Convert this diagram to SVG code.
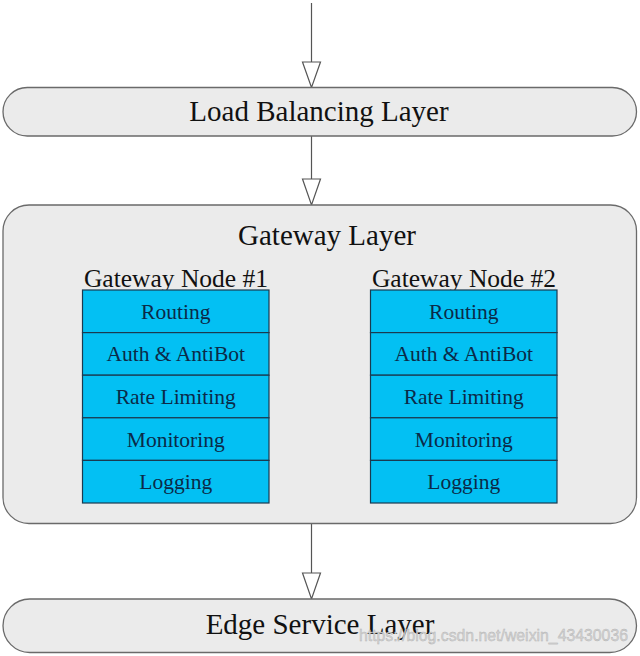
<svg xmlns="http://www.w3.org/2000/svg" width="640" height="656" viewBox="0 0 640 656">
<style>
.layer{fill:#ebebeb;stroke:#6a6a6a;stroke-width:1.3}
.big{font-family:"Liberation Serif","Times New Roman",serif;font-size:29px;fill:#111;text-anchor:middle}
.title{font-family:"Liberation Serif","Times New Roman",serif;font-size:25.5px;fill:#111;text-anchor:middle}
.cell{fill:#03c0f3;stroke:#1a3a50;stroke-width:1.2}
.ct{font-family:"Liberation Serif","Times New Roman",serif;font-size:21.5px;fill:#0b2a48;text-anchor:middle}
.conn{stroke:#555;stroke-width:1.2;fill:none}
.head{fill:#fff;stroke:#555;stroke-width:1.2}
.wm{font-family:"Liberation Sans",Arial,sans-serif;font-size:17px;fill:#d4d4d4;stroke:#b0b0b0;stroke-width:0.4}
</style>
<rect width="640" height="656" fill="#fff"/>
<g id="connectors">
<line class="conn" x1="311.5" y1="3" x2="311.5" y2="62"/>
<polygon class="head" points="302.5,62 320.5,62 311.5,87.5"/>
<line class="conn" x1="311.5" y1="136" x2="311.5" y2="179"/>
<polygon class="head" points="302.5,179 320.5,179 311.5,205"/>
<line class="conn" x1="311.5" y1="524" x2="311.5" y2="573"/>
<polygon class="head" points="302.5,573 320.5,573 311.5,599"/>
</g>
<g id="load-balancing">
<rect class="layer" x="3" y="87.5" width="633.5" height="48.5" rx="24.25"/>
<text class="big" x="319" y="121">Load Balancing Layer</text>
</g>
<g id="gateway-layer">
<rect class="layer" x="3" y="205" width="633.5" height="318.5" rx="26"/>
<text class="big" x="327" y="245">Gateway Layer</text>
</g>
<g id="gateway-node-1">
<text class="title" x="176" y="287">Gateway Node #1</text>
<rect class="cell" x="82.5" y="290" width="186.5" height="42.6"/>
<rect class="cell" x="82.5" y="332.6" width="186.5" height="42.6"/>
<rect class="cell" x="82.5" y="375.2" width="186.5" height="42.6"/>
<rect class="cell" x="82.5" y="417.8" width="186.5" height="42.6"/>
<rect class="cell" x="82.5" y="460.4" width="186.5" height="42.6"/>
<text class="ct" x="175.75" y="318.5">Routing</text>
<text class="ct" x="175.75" y="361">Auth &amp; AntiBot</text>
<text class="ct" x="175.75" y="403.5">Rate Limiting</text>
<text class="ct" x="175.75" y="446.5">Monitoring</text>
<text class="ct" x="175.75" y="488.5">Logging</text>
</g>
<g id="gateway-node-2">
<text class="title" x="464" y="287">Gateway Node #2</text>
<rect class="cell" x="370.5" y="290" width="186.5" height="42.6"/>
<rect class="cell" x="370.5" y="332.6" width="186.5" height="42.6"/>
<rect class="cell" x="370.5" y="375.2" width="186.5" height="42.6"/>
<rect class="cell" x="370.5" y="417.8" width="186.5" height="42.6"/>
<rect class="cell" x="370.5" y="460.4" width="186.5" height="42.6"/>
<text class="ct" x="463.75" y="318.5">Routing</text>
<text class="ct" x="463.75" y="361">Auth &amp; AntiBot</text>
<text class="ct" x="463.75" y="403.5">Rate Limiting</text>
<text class="ct" x="463.75" y="446.5">Monitoring</text>
<text class="ct" x="463.75" y="488.5">Logging</text>
</g>
<g id="edge-service">
<rect class="layer" x="3" y="599" width="633.5" height="53.5" rx="26.75"/>
<text class="big" x="320" y="634">Edge Service Layer</text>
</g>
<text class="wm" x="359" y="641" textLength="269" lengthAdjust="spacingAndGlyphs">https://blog.csdn.net/weixin_43430036</text>
</svg>
